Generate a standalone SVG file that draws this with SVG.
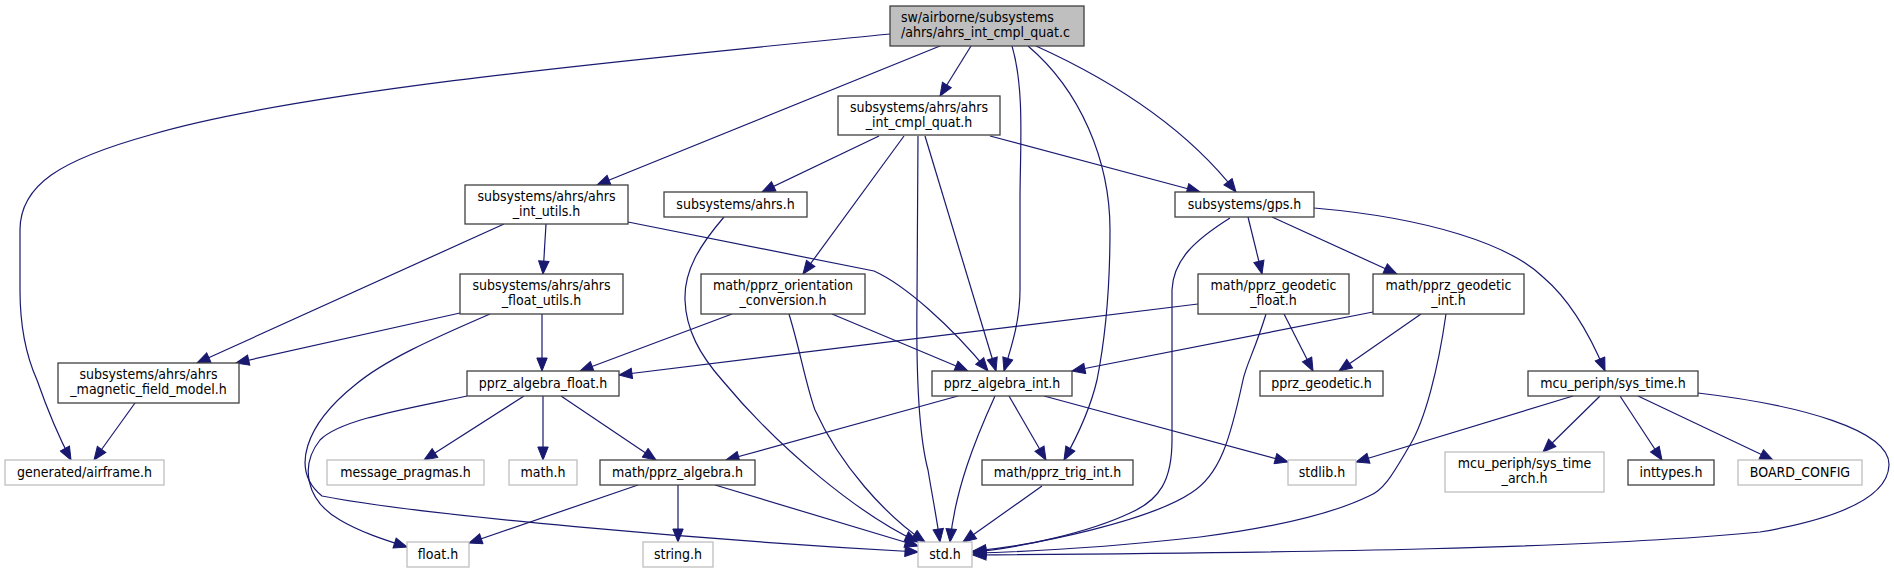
<svg xmlns="http://www.w3.org/2000/svg" width="1894" height="573" viewBox="0 0 1894 573">
<style>
rect.b{fill:#ffffff;stroke:#404040;stroke-width:1.3}
rect.g{fill:#ffffff;stroke:#bfbfbf;stroke-width:1.3}
rect.m{fill:#bfbfbf;stroke:#404040;stroke-width:1.3}
text{font-family:"DejaVu Sans","Liberation Sans",sans-serif;font-stretch:condensed;font-size:14px;fill:#000000;text-anchor:middle}
text.l{text-anchor:start}
#edges path{fill:none;stroke:#191970;stroke-width:1.2;marker-end:url(#ah)}
</style>
<defs>
<marker id="ah" markerUnits="userSpaceOnUse" viewBox="-14 -6 15 12" markerWidth="15" markerHeight="12" refX="0" refY="0" orient="auto">
<path d="M0,0 L-13,-5.2 L-13,5.2 Z" fill="#191970" stroke="#191970" stroke-width="1"/>
</marker>
</defs>
<rect width="1894" height="573" fill="#ffffff"/>
<g id="edges">
<path d="M890,34 C650,58 300,90 150,135 C60,160 20,185 20,230 L20,290 C20,330 28,360 37,380 C44,400 55,430 71,460"/>
<path d="M940,46 L597,185"/>
<path d="M971,46 L940,96"/>
<path d="M1012,46 C1025,90 1020,150 1020,200 L1020,290 C1020,320 1012,345 1004,371"/>
<path d="M1028,46 C1080,90 1110,160 1110,230 C1110,300 1103,350 1097,380 C1090,410 1078,435 1064,460"/>
<path d="M1036,46 C1100,75 1180,120 1236,192"/>
<path d="M879,136 L762,192"/>
<path d="M904,136 L803,274"/>
<path d="M918,136 L917,300 C916,380 920,440 928,470 C933,500 937,520 940,542"/>
<path d="M925,136 L996,371"/>
<path d="M990,136 L1200,192"/>
<path d="M504,224 L197,363"/>
<path d="M546,224 L543,274"/>
<path d="M628,222 L874,271 C905,285 950,325 988,371"/>
<path d="M460,313 L236,363"/>
<path d="M490,314 C430,340 385,360 355,385 C305,425 290,470 322,496 C420,515 700,540 918,552"/>
<path d="M542,314 L542,371"/>
<path d="M135,403 L94,460"/>
<path d="M724,217 C700,245 684,270 685,300 C686,330 700,355 722,380 C780,450 860,515 918,542"/>
<path d="M732,314 L580,371"/>
<path d="M789,314 C800,350 806,385 815,410 C840,465 885,515 925,542"/>
<path d="M832,314 L968,371"/>
<path d="M1198,304 L619,375"/>
<path d="M1284,314 L1313,371"/>
<path d="M1266,314 C1255,350 1246,365 1243,380 C1230,440 1220,475 1191,493 C1150,520 1040,545 973,551"/>
<path d="M1230,218 C1195,240 1173,260 1172,290 L1172,440 C1172,480 1160,500 1130,513 C1090,532 1020,548 973,552"/>
<path d="M1248,217 L1262,274"/>
<path d="M1272,217 L1397,274"/>
<path d="M1314,208 C1430,218 1510,245 1543,277 C1570,300 1590,335 1605,371"/>
<path d="M1373,312 L1072,371"/>
<path d="M1421,314 L1339,371"/>
<path d="M1446,314 C1438,370 1425,420 1410,445 C1395,470 1385,490 1369,496 C1330,515 1270,528 1200,537 C1100,548 1020,552 973,553"/>
<path d="M467,396 C400,410 340,420 320,440 C300,465 305,500 340,520 C360,532 385,540 407,547"/>
<path d="M524,396 L424,460"/>
<path d="M543,396 L543,460"/>
<path d="M561,396 L656,460"/>
<path d="M958,396 L726,460"/>
<path d="M995,396 C975,440 955,490 950,542"/>
<path d="M1009,396 L1046,460"/>
<path d="M1044,396 L1288,462"/>
<path d="M638,485 L469,543"/>
<path d="M678,485 L678,542"/>
<path d="M715,485 L918,546"/>
<path d="M1042,486 L963,542"/>
<path d="M1573,396 L1356,462"/>
<path d="M1600,396 L1543,452"/>
<path d="M1620,396 L1662,460"/>
<path d="M1638,396 L1773,460"/>
<path d="M1698,393 C1800,405 1890,430 1889,465 C1888,500 1830,520 1760,532 C1600,548 1300,553 973,555"/>
</g>
<g id="n_main"><rect class="m" x="890" y="6" width="194" height="40"/><text class="l" x="901" y="22">sw/airborne/subsystems</text><text class="l" x="901" y="37">/ahrs/ahrs_int_cmpl_quat.c</text></g>
<g id="n_cmpl_quat_h"><rect class="b" x="838" y="96" width="162" height="39"/><text x="919" y="112">subsystems/ahrs/ahrs</text><text x="919" y="127">_int_cmpl_quat.h</text></g>
<g id="n_int_utils"><rect class="b" x="465" y="185" width="163" height="39"/><text x="546.5" y="201">subsystems/ahrs/ahrs</text><text x="546.5" y="216">_int_utils.h</text></g>
<g id="n_ahrs"><rect class="b" x="664" y="192" width="143" height="25"/><text x="735.5" y="209">subsystems/ahrs.h</text></g>
<g id="n_gps"><rect class="b" x="1175" y="192" width="139" height="25"/><text x="1244.5" y="209">subsystems/gps.h</text></g>
<g id="n_float_utils"><rect class="b" x="460" y="274" width="163" height="40"/><text x="541.5" y="290">subsystems/ahrs/ahrs</text><text x="541.5" y="305">_float_utils.h</text></g>
<g id="n_orient"><rect class="b" x="701" y="274" width="164" height="40"/><text x="783" y="290">math/pprz_orientation</text><text x="783" y="305">_conversion.h</text></g>
<g id="n_geo_float"><rect class="b" x="1198" y="274" width="151" height="40"/><text x="1273.5" y="290">math/pprz_geodetic</text><text x="1273.5" y="305">_float.h</text></g>
<g id="n_geo_int"><rect class="b" x="1373" y="274" width="151" height="40"/><text x="1448.5" y="290">math/pprz_geodetic</text><text x="1448.5" y="305">_int.h</text></g>
<g id="n_mag"><rect class="b" x="58" y="363" width="181" height="40"/><text x="148.5" y="379">subsystems/ahrs/ahrs</text><text x="148.5" y="394">_magnetic_field_model.h</text></g>
<g id="n_alg_float"><rect class="b" x="467" y="371" width="152" height="25"/><text x="543" y="388">pprz_algebra_float.h</text></g>
<g id="n_alg_int"><rect class="b" x="932" y="371" width="140" height="25"/><text x="1002" y="388">pprz_algebra_int.h</text></g>
<g id="n_geodetic"><rect class="b" x="1260" y="371" width="123" height="25"/><text x="1321.5" y="388">pprz_geodetic.h</text></g>
<g id="n_sys_time"><rect class="b" x="1528" y="371" width="170" height="25"/><text x="1613" y="388">mcu_periph/sys_time.h</text></g>
<g id="n_airframe"><rect class="g" x="5" y="460" width="159" height="25"/><text x="84.5" y="477">generated/airframe.h</text></g>
<g id="n_pragmas"><rect class="g" x="327" y="460" width="157" height="25"/><text x="405.5" y="477">message_pragmas.h</text></g>
<g id="n_math"><rect class="g" x="509" y="460" width="68" height="25"/><text x="543" y="477">math.h</text></g>
<g id="n_alg"><rect class="b" x="600" y="460" width="155" height="25"/><text x="677.5" y="477">math/pprz_algebra.h</text></g>
<g id="n_trig"><rect class="b" x="982" y="460" width="151" height="25"/><text x="1057.5" y="477">math/pprz_trig_int.h</text></g>
<g id="n_stdlib"><rect class="g" x="1288" y="460" width="68" height="25"/><text x="1322" y="477">stdlib.h</text></g>
<g id="n_sys_time_arch"><rect class="g" x="1445" y="452" width="159" height="40"/><text x="1524.5" y="468">mcu_periph/sys_time</text><text x="1524.5" y="483">_arch.h</text></g>
<g id="n_inttypes"><rect class="b" x="1628" y="460" width="86" height="25"/><text x="1671" y="477">inttypes.h</text></g>
<g id="n_board"><rect class="g" x="1738" y="460" width="124" height="25"/><text x="1800" y="477">BOARD_CONFIG</text></g>
<g id="n_float"><rect class="g" x="407" y="542" width="62" height="25"/><text x="438" y="559">float.h</text></g>
<g id="n_string"><rect class="g" x="643" y="542" width="70" height="25"/><text x="678" y="559">string.h</text></g>
<g id="n_std"><rect class="g" x="918" y="542" width="54" height="25"/><text x="945" y="559">std.h</text></g>
</svg>
